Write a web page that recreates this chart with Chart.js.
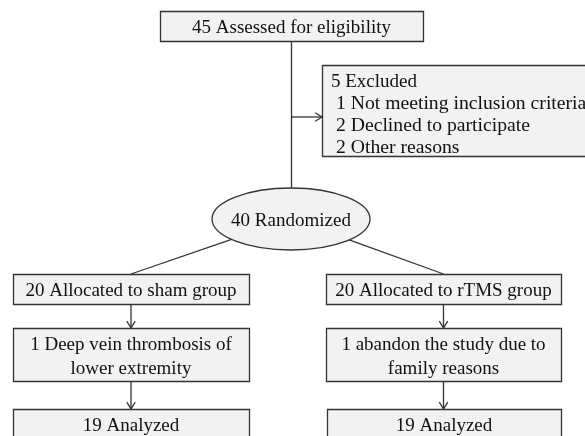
<!DOCTYPE html>
<html lang="en">
<head>
<meta charset="UTF-8" />
<title>Flow diagram</title>
<script src="https://cdn.jsdelivr.net/npm/chart.js"></script>
<style>
  body { margin: 0; background: #ffffff; overflow: hidden; }
  #flow { display: block; }
</style>
</head>
<body>
<canvas id="flow" width="585" height="436"></canvas>
<script>
// node texts and participant counts
const nodeText = [
  ['45 Assessed for eligibility'],
  ['5 Excluded', ' 1 Not meeting inclusion criteria', ' 2 Declined to participate', ' 2 Other reasons'],
  ['40 Randomized'],
  ['20 Allocated to sham group'],
  ['20 Allocated to rTMS group'],
  ['1 Deep vein thrombosis of', 'lower extremity'],
  ['1 abandon the study due to', 'family reasons'],
  ['19 Analyzed'],
  ['19 Analyzed']
];
const nodeCounts = [45, 5, 40, 20, 20, 1, 1, 19, 19];

// connections: [from, to, kind]
const edges = [
  [0, 2, 'trunk'],
  [0, 1, 'side'],
  [2, 3, 'diag'],
  [2, 4, 'diag'],
  [3, 5, 'down'],
  [5, 7, 'down'],
  [4, 6, 'down'],
  [6, 8, 'down']
];

// geometry of the diagram, in frame units (0..585 x 0..436)
const layout = [
  { shape: 'box', x0: 160, y0: 11, x1: 423, y1: 41 },
  { shape: 'box', x0: 322, y0: 65, x1: 600, y1: 156, align: 'left', textX: 331, textY: 79.5, lh: 22, arrowY: 117, wide: true },
  { shape: 'ellipse', x0: 212, y0: 188, x1: 370, y1: 250 },
  { shape: 'box', x0: 13, y0: 274, x1: 249, y1: 304 },
  { shape: 'box', x0: 326, y0: 274, x1: 561, y1: 304 },
  { shape: 'box', x0: 13, y0: 328, x1: 249, y1: 381, lh: 24 },
  { shape: 'box', x0: 326, y0: 328, x1: 561, y1: 381, lh: 24 },
  { shape: 'box', x0: 13, y0: 409, x1: 249, y1: 442, textY: 424 },
  { shape: 'box', x0: 327, y0: 409, x1: 561, y1: 442, textY: 424 }
];

const lineColor = '#333333';
const fillColor = '#f2f2f2';
const font = '19px "Liberation Serif", "Times New Roman", serif';
const wideFont = '19.7px "Liberation Serif", "Times New Roman", serif';

const cx = n => (n.x0 + n.x1) / 2;
const cy = n => (n.y0 + n.y1) / 2;

function edgePoints(e) {
  const a = layout[e[0]], b = layout[e[1]];
  if (e[2] === 'trunk') return [{ x: cx(a), y: a.y1 }, { x: cx(a), y: b.y0 }];
  if (e[2] === 'side') return [{ x: cx(a), y: b.arrowY }, { x: b.x0, y: b.arrowY }];
  if (e[2] === 'diag') {
    // start on the ellipse boundary, heading to the target's top centre
    const ex = cx(a), ey = cy(a), rx = (a.x1 - a.x0) / 2, ry = (a.y1 - a.y0) / 2;
    const dx = cx(b) - ex, dy = b.y0 - ey;
    const t = 1 / Math.sqrt((dx / rx) ** 2 + (dy / ry) ** 2);
    return [{ x: ex + dx * t, y: ey + dy * t }, { x: cx(b), y: b.y0 }];
  }
  return [{ x: cx(a), y: a.y1 }, { x: cx(a), y: b.y0 }];
}

const datasets = edges.map(e => ({
  data: edgePoints(e),
  showLine: true,
  borderColor: lineColor,
  borderWidth: 1.3,
  pointRadius: 0,
  arrow: e[2] === 'side' || e[2] === 'down'
}));

const flowPlugin = {
  id: 'flowNodes',
  afterDatasetsDraw(chart) {
    const { ctx, scales: { x, y } } = chart;
    ctx.save();
    ctx.lineWidth = 1.3;
    ctx.strokeStyle = lineColor;

    // arrow heads
    chart.data.datasets.forEach(ds => {
      if (!ds.arrow) return;
      const p0 = ds.data[0], p1 = ds.data[1];
      const x0 = x.getPixelForValue(p0.x), y0 = y.getPixelForValue(p0.y);
      const x1 = x.getPixelForValue(p1.x), y1 = y.getPixelForValue(p1.y);
      const ang = Math.atan2(y1 - y0, x1 - x0);
      ctx.beginPath();
      ctx.moveTo(x1 - 8 * Math.cos(ang - 0.55), y1 - 8 * Math.sin(ang - 0.55));
      ctx.lineTo(x1, y1);
      ctx.lineTo(x1 - 8 * Math.cos(ang + 0.55), y1 - 8 * Math.sin(ang + 0.55));
      ctx.stroke();
    });

    // boxes and ellipse
    layout.forEach((n, i) => {
      const px0 = x.getPixelForValue(n.x0), px1 = x.getPixelForValue(n.x1);
      const py0 = y.getPixelForValue(n.y0), py1 = y.getPixelForValue(n.y1);
      ctx.beginPath();
      if (n.shape === 'ellipse') {
        ctx.ellipse((px0 + px1) / 2, (py0 + py1) / 2, (px1 - px0) / 2, (py1 - py0) / 2, 0, 0, Math.PI * 2);
      } else {
        ctx.rect(px0 + 0.5, py0 + 0.5, px1 - px0, py1 - py0);
      }
      ctx.fillStyle = fillColor;
      ctx.fill();
      ctx.stroke();

      const lines = nodeText[i];
      const lh = n.lh || 22;
      ctx.fillStyle = '#111111';
      ctx.textBaseline = 'middle';
      let tx, ty;
      if (n.align === 'left') {
        ctx.textAlign = 'left';
        tx = x.getPixelForValue(n.textX);
        ty = y.getPixelForValue(n.textY);
      } else {
        ctx.textAlign = 'center';
        tx = x.getPixelForValue(cx(n));
        ty = y.getPixelForValue(n.textY !== undefined ? n.textY : cy(n) - (lines.length - 1) * lh / 2);
      }
      lines.forEach((t, k) => {
        ctx.font = (n.wide && k > 0) ? wideFont : font;
        ctx.fillText(t, tx, ty + 2.5 + k * lh);
      });
    });
    ctx.restore();
  }
};

new Chart(document.getElementById('flow'), {
  type: 'scatter',
  data: { datasets: datasets },
  options: {
    responsive: false,
    animation: false,
    layout: { padding: 0 },
    plugins: { legend: { display: false }, tooltip: { enabled: false } },
    scales: {
      x: { type: 'linear', min: 0, max: 585, display: false },
      y: { type: 'linear', min: 0, max: 436, reverse: true, display: false }
    }
  },
  plugins: [flowPlugin]
});
</script>
</body>
</html>
